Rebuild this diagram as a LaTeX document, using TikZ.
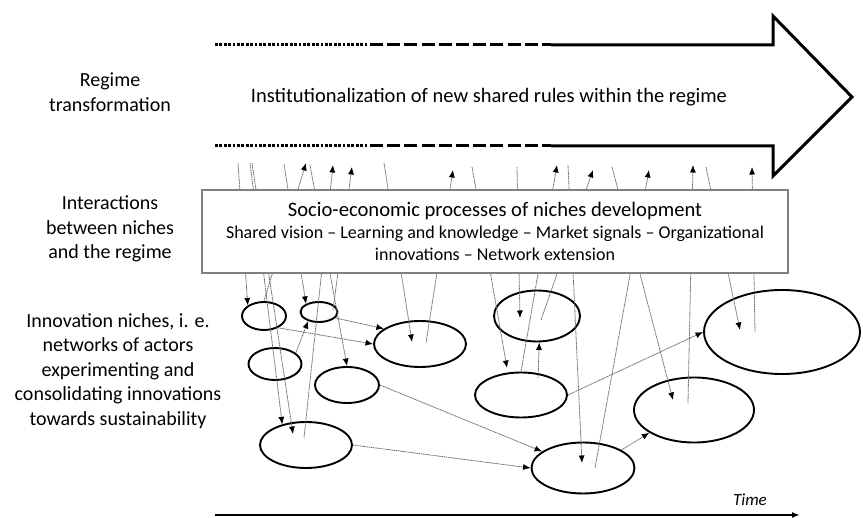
\documentclass[tikz,border=0pt]{standalone}
\usepackage{fontspec}
\setmainfont{Carlito}
\usetikzlibrary{arrows.meta, shapes.geometric, positioning, calc}
\definecolor{linkgray}{RGB}{105,105,105}

\tikzset{
  niche/.style={draw, ellipse, line width=1.9pt, inner sep=0pt},
  link/.style={linkgray, line width=0.8pt, dash pattern=on 1.2pt off 0.6pt, -{Latex[length=7.5pt,width=6pt,color=black]}},
  regimeline/.style={line width=3pt},
  level/.style={align=center, font=\fontsize{20}{24.4}\selectfont},
}

\begin{document}
\begin{tikzpicture}[x=1pt, y=-1pt]
\useasboundingbox (0,0) rectangle (863,518);

% regime arrow
\draw[regimeline, dash pattern=on 2.8pt off 1.6pt] (215,45) -- (368,45) (215,146) -- (368,146);
\draw[regimeline, dash pattern=on 13pt off 4.2pt] (370,45) -- (551,45) (370,146) -- (551,146);
\draw[regimeline, line join=miter] (551,45) -- (773,45) -- (773,16) -- (852,97) -- (773,176) -- (773,146) -- (551,146);
\node[font=\fontsize{20.5}{24}\selectfont] (inst) at (489,97) {Institutionalization of new shared rules within the regime};

% levels
\node[level] (lregime) at (110,92) {Regime\\transformation};
\node[level] (linter) at (110,229) {Interactions\\between niches\\and the regime};
\node[level] (lniche) at (118,371) {Innovation niches, i. e.\\networks of actors\\experimenting and\\consolidating innovations\\towards sustainability};

% niches
\node[niche, minimum width=44pt, minimum height=28pt] (n1) at (264,316) {};
\node[niche, minimum width=37pt, minimum height=20pt] (n2) at (319,312) {};
\node[niche, minimum width=53pt, minimum height=32pt] (n3) at (275,364) {};
\node[niche, minimum width=64pt, minimum height=36pt] (n4) at (347,385) {};
\node[niche, minimum width=92pt, minimum height=46pt] (n5) at (420,344) {};
\node[niche, minimum width=92pt, minimum height=46pt] (n6) at (306,445) {};
\node[niche, minimum width=86pt, minimum height=51pt] (n7) at (537,316) {};
\node[niche, minimum width=92pt, minimum height=45pt] (n8) at (521,395) {};
\node[niche, minimum width=103pt, minimum height=51pt] (n9) at (583,468) {};
\node[niche, minimum width=120pt, minimum height=65pt] (n10) at (694,410) {};
\node[niche, minimum width=156pt, minimum height=84pt] (n11) at (782,332) {};

% ends above the box
\coordinate (r1) at (238,163);
\coordinate (r2) at (250,163);
\coordinate (r3) at (252,163);
\coordinate (r4) at (284,164);
\coordinate (r5) at (310,165);
\coordinate (r6) at (384,163);
\coordinate (r7) at (472,167);
\coordinate (r8) at (517,167);
\coordinate (r9) at (568,165);
\coordinate (r10) at (612,167);
\coordinate (r11) at (706,167);
\coordinate (s1) at (306,163);
\coordinate (s2) at (333,165);
\coordinate (s3) at (352,167);
\coordinate (s4) at (453,170);
\coordinate (s5) at (557,165);
\coordinate (s6) at (593,170);
\coordinate (s7) at (649,170);
\coordinate (s8) at (693,165);
\coordinate (s9) at (752,167);

% points inside the niches
\coordinate (i3) at (293,434);
\coordinate (i5) at (412,342);
\coordinate (i7) at (507,368);
\coordinate (i8) at (520,318);
\coordinate (i9) at (582,463);
\coordinate (i10) at (673,400);
\coordinate (i11) at (740,330);
\coordinate (o6) at (304,438);
\coordinate (o2) at (333,310);
\coordinate (o5) at (426,343);
\coordinate (o7) at (541,320);
\coordinate (o9) at (595,468);
\coordinate (o10) at (688,403);
\coordinate (o11) at (755,332);
\coordinate (o8) at (538,378);

% regime -> niches
\draw[link] (r1) -- (n1.147);
\draw[link] (r2) -- (n6.139);
\draw[link] (r3) -- (i3);
\draw[link] (r4) -- (n2.148);
\draw[link] (r5) -- (n4.north);
\draw[link] (r6) -- (i5);
\draw[link] (r7) -- (i7);
\draw[link] (r8) -- (i8);
\draw[link] (r9) -- (i9);
\draw[link] (r10) -- (i10);
\draw[link] (r11) -- (i11);

% niches -> regime
\draw[link] (n1.north) -- (s1);
\draw[link] (o6) -- (s2);
\draw[link] (o2) -- (s3);
\draw[link] (o5) -- (s4);
\draw[link] (n8.north) -- (s5);
\draw[link] (o7) -- (s6);
\draw[link] (o9) -- (s7);
\draw[link] (o10) -- (s8);
\draw[link] (o11) -- (s9);

% niches -> niches
\draw[link] (n1.-40) -- (n5.west);
\draw[link] (n2.-20) -- (n5.157);
\draw[link] (n3.28) -- (n2.-140);
\draw[link] (n4.east) -- (n9.158);
\draw[link] (n6.east) -- (n9.west);
\draw[link] (n9.25) -- (n10.-153);
\draw[link] (n8.east) -- (n11.west);
\draw[link] (o8) -- (n7.-85);

% processes box
\node[draw=gray, line width=1.3pt, fill=white, minimum width=586pt, minimum height=83pt, align=center, font=\fontsize{18}{22}\selectfont] (proc) at (495,231.5)
  {{\fontsize{20.6}{23}\selectfont Socio-economic processes of niches development}\\
   Shared vision – Learning and knowledge – Market signals – Organizational\\
   innovations – Network extension};

% time axis
\coordinate (t0) at (215,515);
\coordinate (t1) at (800,515);
\draw[line width=1.6pt, -{Latex[length=8pt,width=6pt]}] (t0) -- (t1);
\node[font=\fontsize{17}{20}\selectfont\itshape] (time) at (750,500) {Time};
\end{tikzpicture}
\end{document}
